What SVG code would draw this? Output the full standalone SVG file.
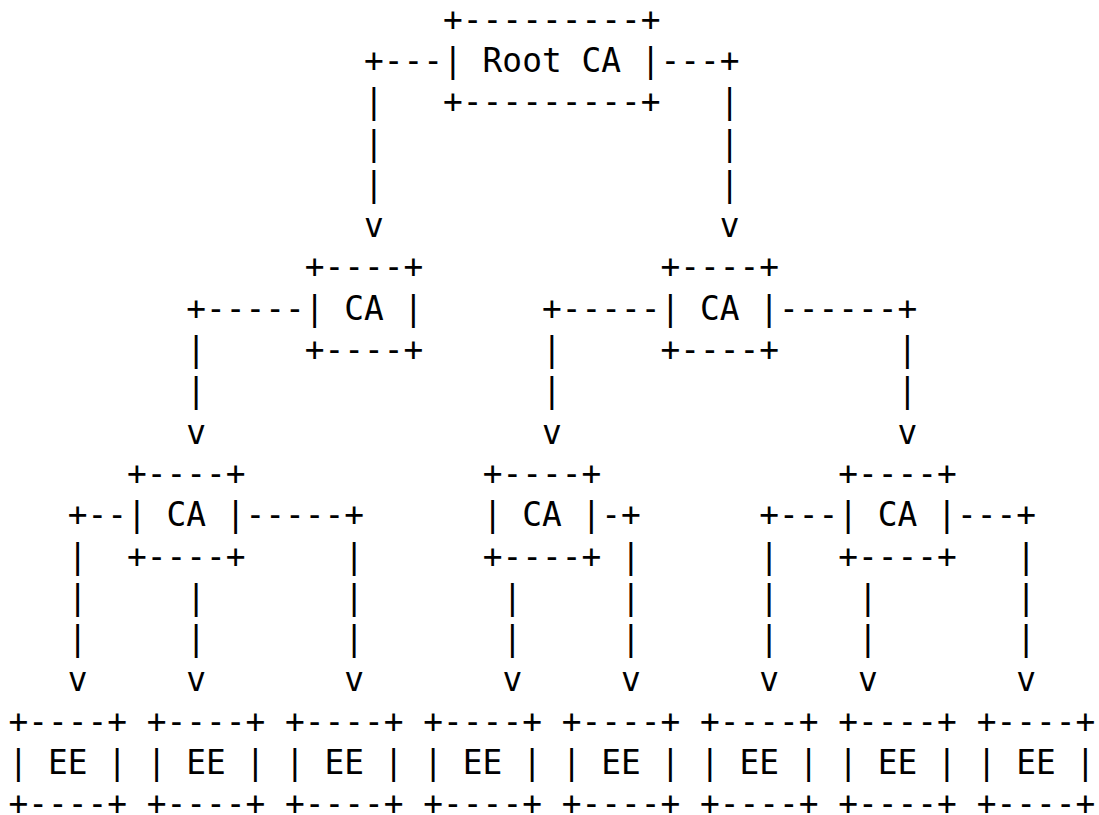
<svg xmlns="http://www.w3.org/2000/svg" width="1099" height="815" viewBox="0 0 1099 815" xml:space="preserve">
  <style>
    /* monospace grid: column step 19.76px, row step 41.3px */
    text { font-family: "DejaVu Sans Mono", "Liberation Mono", monospace; font-size: 32.82px; fill: #000; }
  </style>
  <rect width="1099" height="815" fill="#fff"/>

  <!-- Root CA -->
  <g id="root-ca">
    <text x="443.12" y="30.6">+---------+</text>
    <text x="443.12" y="71.9">| Root CA |</text>
    <text x="443.12" y="113.2">+---------+</text>
  </g>

  <!-- intermediate CAs, first level -->
  <g id="ca-1-left">
    <text x="304.8" y="278.4">+----+</text>
    <text x="304.8" y="319.7">| CA |</text>
    <text x="304.8" y="361">+----+</text>
  </g>
  <g id="ca-1-right">
    <text x="660.48" y="278.4">+----+</text>
    <text x="660.48" y="319.7">| CA |</text>
    <text x="660.48" y="361">+----+</text>
  </g>

  <!-- intermediate CAs, second level -->
  <g id="ca-2-a">
    <text x="126.96" y="484.9">+----+</text>
    <text x="126.96" y="526.2">| CA |</text>
    <text x="126.96" y="567.5">+----+</text>
  </g>
  <g id="ca-2-b">
    <text x="482.64" y="484.9">+----+</text>
    <text x="482.64" y="526.2">| CA |</text>
    <text x="482.64" y="567.5">+----+</text>
  </g>
  <g id="ca-2-c">
    <text x="838.32" y="484.9">+----+</text>
    <text x="838.32" y="526.2">| CA |</text>
    <text x="838.32" y="567.5">+----+</text>
  </g>

  <!-- end entities -->
  <g id="ee-1">
    <text x="8.4" y="732.7">+----+</text>
    <text x="8.4" y="774">| EE |</text>
    <text x="8.4" y="815.3">+----+</text>
  </g>
  <g id="ee-2">
    <text x="146.72" y="732.7">+----+</text>
    <text x="146.72" y="774">| EE |</text>
    <text x="146.72" y="815.3">+----+</text>
  </g>
  <g id="ee-3">
    <text x="285.04" y="732.7">+----+</text>
    <text x="285.04" y="774">| EE |</text>
    <text x="285.04" y="815.3">+----+</text>
  </g>
  <g id="ee-4">
    <text x="423.36" y="732.7">+----+</text>
    <text x="423.36" y="774">| EE |</text>
    <text x="423.36" y="815.3">+----+</text>
  </g>
  <g id="ee-5">
    <text x="561.68" y="732.7">+----+</text>
    <text x="561.68" y="774">| EE |</text>
    <text x="561.68" y="815.3">+----+</text>
  </g>
  <g id="ee-6">
    <text x="700" y="732.7">+----+</text>
    <text x="700" y="774">| EE |</text>
    <text x="700" y="815.3">+----+</text>
  </g>
  <g id="ee-7">
    <text x="838.32" y="732.7">+----+</text>
    <text x="838.32" y="774">| EE |</text>
    <text x="838.32" y="815.3">+----+</text>
  </g>
  <g id="ee-8">
    <text x="976.64" y="732.7">+----+</text>
    <text x="976.64" y="774">| EE |</text>
    <text x="976.64" y="815.3">+----+</text>
  </g>

  <!-- connectors drawn with +, -, | and v -->
  <g id="connectors">
    <!-- root to first level -->
    <text x="364.08" y="71.9">+---</text>
    <text x="660.48" y="71.9">---+</text>
    <text x="364.08" y="113.2">|</text>
    <text x="364.08" y="154.5">|</text>
    <text x="364.08" y="195.8">|</text>
    <text x="364.08" y="237.1">v</text>
    <text x="719.76" y="113.2">|</text>
    <text x="719.76" y="154.5">|</text>
    <text x="719.76" y="195.8">|</text>
    <text x="719.76" y="237.1">v</text>

    <!-- first level to second level -->
    <text x="186.24" y="319.7">+-----</text>
    <text x="541.92" y="319.7">+-----</text>
    <text x="779.04" y="319.7">------+</text>
    <text x="186.24" y="361">|</text>
    <text x="186.24" y="402.3">|</text>
    <text x="186.24" y="443.6">v</text>
    <text x="541.92" y="361">|</text>
    <text x="541.92" y="402.3">|</text>
    <text x="541.92" y="443.6">v</text>
    <text x="897.6" y="361">|</text>
    <text x="897.6" y="402.3">|</text>
    <text x="897.6" y="443.6">v</text>

    <!-- second level to end entities -->
    <text x="67.68" y="526.2">+--</text>
    <text x="245.52" y="526.2">-----+</text>
    <text x="601.2" y="526.2">-+</text>
    <text x="759.28" y="526.2">+---</text>
    <text x="956.88" y="526.2">---+</text>

    <text x="67.68" y="567.5">|</text>
    <text x="344.32" y="567.5">|</text>
    <text x="620.96" y="567.5">|</text>
    <text x="759.28" y="567.5">|</text>
    <text x="1016.16" y="567.5">|</text>

    <text x="67.68" y="608.8">|</text>
    <text x="186.24" y="608.8">|</text>
    <text x="344.32" y="608.8">|</text>
    <text x="502.4" y="608.8">|</text>
    <text x="620.96" y="608.8">|</text>
    <text x="759.28" y="608.8">|</text>
    <text x="858.08" y="608.8">|</text>
    <text x="1016.16" y="608.8">|</text>

    <text x="67.68" y="650.1">|</text>
    <text x="186.24" y="650.1">|</text>
    <text x="344.32" y="650.1">|</text>
    <text x="502.4" y="650.1">|</text>
    <text x="620.96" y="650.1">|</text>
    <text x="759.28" y="650.1">|</text>
    <text x="858.08" y="650.1">|</text>
    <text x="1016.16" y="650.1">|</text>

    <text x="67.68" y="691.4">v</text>
    <text x="186.24" y="691.4">v</text>
    <text x="344.32" y="691.4">v</text>
    <text x="502.4" y="691.4">v</text>
    <text x="620.96" y="691.4">v</text>
    <text x="759.28" y="691.4">v</text>
    <text x="858.08" y="691.4">v</text>
    <text x="1016.16" y="691.4">v</text>
  </g>
</svg>
